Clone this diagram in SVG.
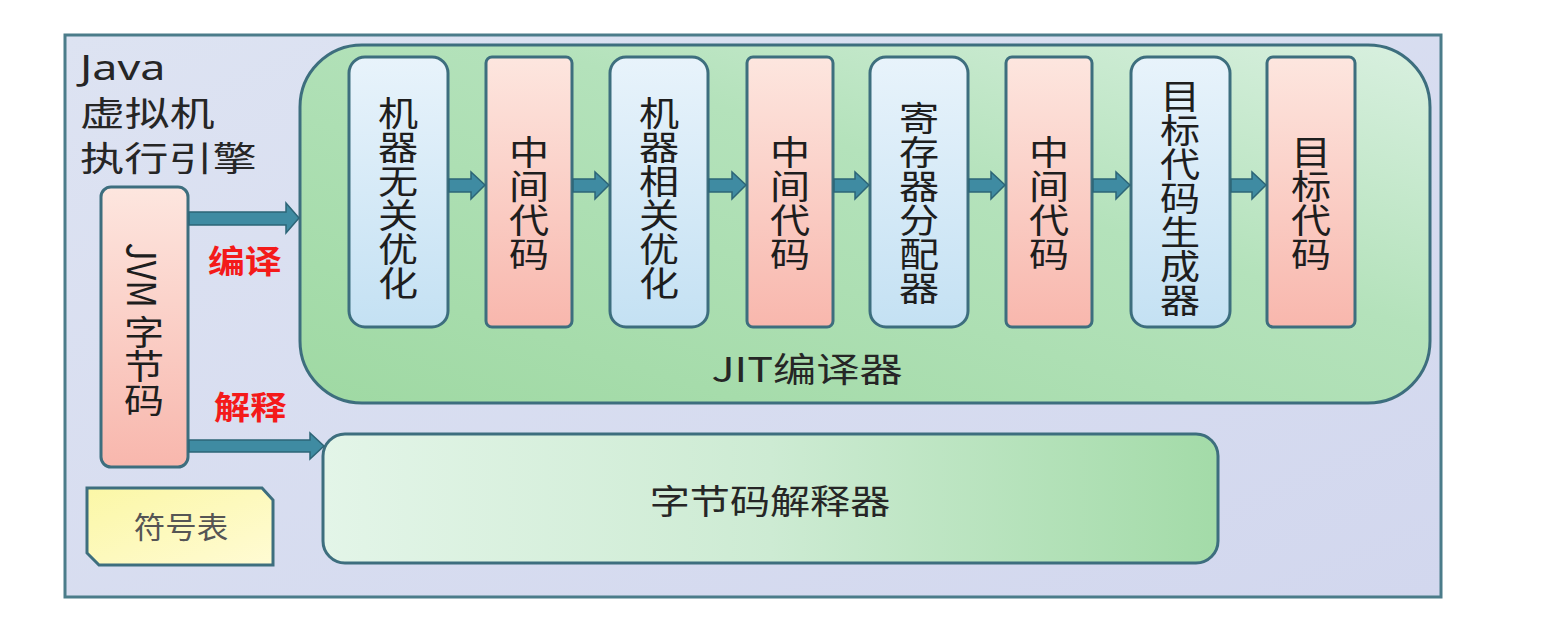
<svg xmlns="http://www.w3.org/2000/svg" width="1552" height="634" viewBox="0 0 1552 634">
<defs>
<linearGradient id="gBlue" x1="0" y1="0" x2="0" y2="1"><stop offset="0" stop-color="#e8f3fb"/><stop offset="1" stop-color="#c4e1f3"/></linearGradient>
<linearGradient id="gPink" x1="0" y1="0" x2="0" y2="1"><stop offset="0" stop-color="#fde6df"/><stop offset="1" stop-color="#f8b7ad"/></linearGradient>
<linearGradient id="gJit" x1="0" y1="1" x2="1" y2="0"><stop offset="0" stop-color="#9fd9a3"/><stop offset="0.6" stop-color="#b4e2bb"/><stop offset="1" stop-color="#d9f0e0"/></linearGradient>
<linearGradient id="gInt" x1="0" y1="0" x2="1" y2="0"><stop offset="0" stop-color="#e3f5e8"/><stop offset="0.5" stop-color="#cdebd3"/><stop offset="1" stop-color="#a3dba8"/></linearGradient>
<linearGradient id="gBg" x1="0" y1="0" x2="1" y2="1"><stop offset="0" stop-color="#dde3f2"/><stop offset="1" stop-color="#d2d7ee"/></linearGradient>
<linearGradient id="gYel" x1="0" y1="0" x2="1" y2="1"><stop offset="0" stop-color="#fbf7a6"/><stop offset="1" stop-color="#fffbd4"/></linearGradient>
</defs>
<style>
.box{stroke:#3d6e7e;stroke-width:3}
.blue{fill:url(#gBlue)}
.pink{fill:url(#gPink)}
.vt{font-family:"Noto Sans CJK SC","Noto Sans",sans-serif;font-size:34px;fill:#1e1e1e;writing-mode:vertical-rl;text-anchor:middle}
.ht{font-family:"Noto Sans CJK SC","Noto Sans",sans-serif;font-size:34px;fill:#262626}
.red{font-family:"Noto Sans CJK SC",sans-serif;font-size:32px;font-weight:bold;fill:#f41a1a}
.arr{fill:#3f8ba2;stroke:#2d6577;stroke-width:1.5}
</style>
<rect x="0" y="0" width="1552" height="634" fill="#ffffff"/>
<g id="frame">
<rect x="65" y="35" width="1376" height="562" fill="url(#gBg)" stroke="#4b7c8a" stroke-width="3"/>
<text class="ht" transform="translate(80,80) scale(1.32,1)" style="font-family:'Noto Sans','Noto Sans CJK SC',sans-serif">Java</text>
<text class="ht" transform="translate(80,126) scale(1.32,1)">虚拟机</text>
<text class="ht" transform="translate(80,171) scale(1.3,1)">执行引擎</text>
</g>
<g id="jit">
<rect class="box" x="300" y="45" width="1130" height="358" rx="62" fill="url(#gJit)"/>
<text class="ht" transform="translate(807,382) scale(1.27,1)" text-anchor="middle">JIT编译器</text>
</g>
<g id="n1"><rect class="box blue" x="349" y="57" width="99" height="270" rx="16"/><text class="vt" transform="translate(398,198) scale(1.18,1)">机器无关优化</text></g>
<g id="n2"><rect class="box pink" x="486" y="57" width="86" height="270" rx="6"/><text class="vt" transform="translate(529,203) scale(1.18,1)">中间代码</text></g>
<g id="n3"><rect class="box blue" x="610" y="57" width="98" height="270" rx="16"/><text class="vt" transform="translate(659,198) scale(1.18,1)">机器相关优化</text></g>
<g id="n4"><rect class="box pink" x="747" y="57" width="86" height="270" rx="6"/><text class="vt" transform="translate(790,203) scale(1.18,1)">中间代码</text></g>
<g id="n5"><rect class="box blue" x="870" y="57" width="98" height="270" rx="16"/><text class="vt" transform="translate(919,203) scale(1.18,1)">寄存器分配器</text></g>
<g id="n6"><rect class="box pink" x="1006" y="57" width="86" height="270" rx="6"/><text class="vt" transform="translate(1049,203) scale(1.18,1)">中间代码</text></g>
<g id="n7"><rect class="box blue" x="1131" y="57" width="99" height="270" rx="16"/><text class="vt" transform="translate(1180,198) scale(1.18,1)">目标代码生成器</text></g>
<g id="n8"><rect class="box pink" x="1267" y="57" width="88" height="270" rx="6"/><text class="vt" transform="translate(1311,203) scale(1.18,1)">目标代码</text></g>
<g id="bytecode"><rect class="box pink" x="101" y="187" width="87" height="280" rx="10"/><text class="vt" transform="translate(144,330) scale(1.18,1)">JVM 字节码</text></g>
<g id="interp">
<rect class="box" x="323" y="434" width="895" height="129" rx="22" fill="url(#gInt)"/>
<text class="ht" transform="translate(770,514) scale(1.18,1)" text-anchor="middle">字节码解释器</text>
</g>
<g id="symtab">
<polygon points="87,488 262,488 273,500 273,565 99,565 87,553" fill="url(#gYel)" stroke="#3d6e7e" stroke-width="3"/>
<text text-anchor="middle" transform="translate(181,538) scale(1.05,1)" style="font-family:'Noto Sans CJK SC',sans-serif;font-size:30px;fill:#555">符号表</text>
</g>
<g id="connectors">
<polygon class="arr" points="189,212 286,212 286,203 299,218 286,233 286,225 189,225"/>
<polygon class="arr" points="189,440 310,440 310,433 324,446 310,459 310,452 189,452"/>
<polygon class="arr" points="449,179 471,179 471,172 485,185 471,199 471,192 449,192"/>
<polygon class="arr" points="573,179 595,179 595,172 609,185 595,199 595,192 573,192"/>
<polygon class="arr" points="709,179 732,179 732,172 746,185 732,199 732,192 709,192"/>
<polygon class="arr" points="834,179 855,179 855,172 869,185 855,199 855,192 834,192"/>
<polygon class="arr" points="969,179 991,179 991,172 1005,185 991,199 991,192 969,192"/>
<polygon class="arr" points="1093,179 1116,179 1116,172 1130,185 1116,199 1116,192 1093,192"/>
<polygon class="arr" points="1231,179 1252,179 1252,172 1266,185 1252,199 1252,192 1231,192"/>
<text class="red" transform="translate(208,273) scale(1.15,1)">编译</text>
<text class="red" transform="translate(214,419) scale(1.13,1)">解释</text>
</g>
</svg>
